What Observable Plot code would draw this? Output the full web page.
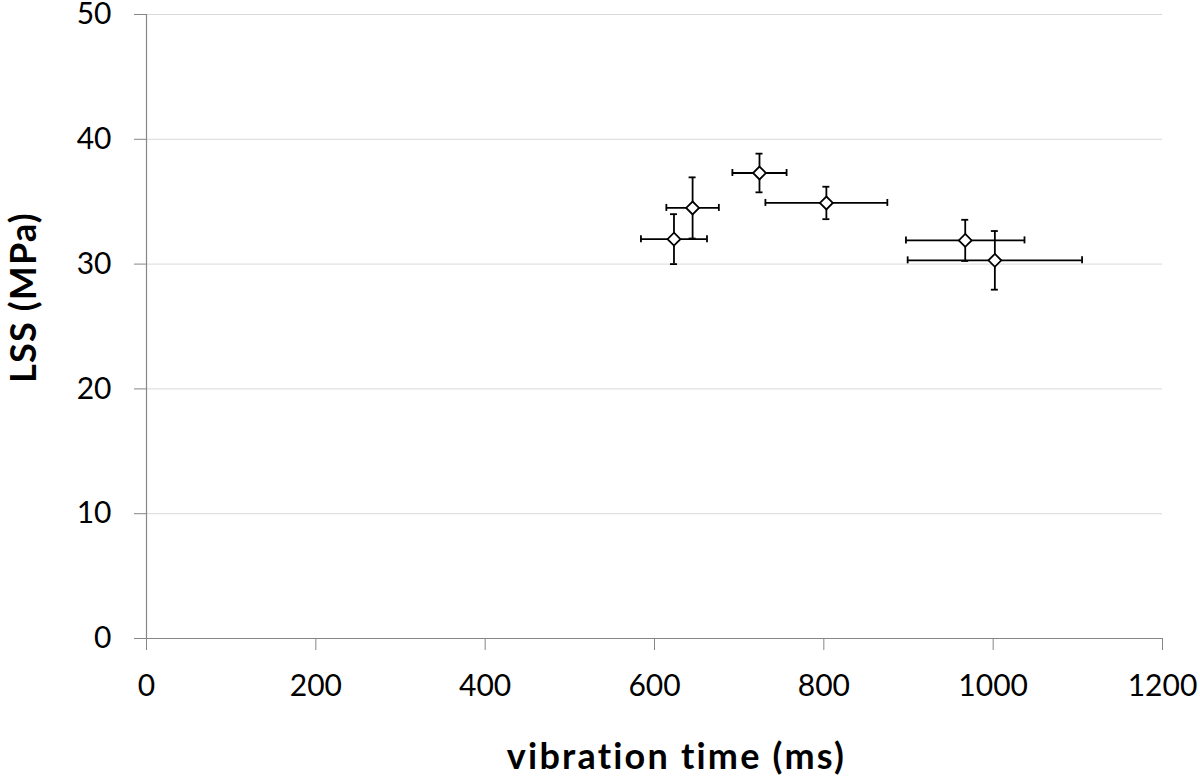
<!DOCTYPE html>
<html>
<head>
<meta charset="utf-8">
<script src="https://cdn.jsdelivr.net/npm/d3@7"></script>
<script src="https://cdn.jsdelivr.net/npm/@observablehq/plot@0.6"></script>
<style>
  html, body { margin: 0; padding: 0; background: #fff; }
  #chart { width: 1200px; height: 780px; }
</style>
</head>
<body>
<div id="chart"></div>
<script>
const time    = [623, 645, 724, 803, 967, 1002];
const timeErr = [39, 31, 32, 72, 70, 103];
const lss     = [32.0, 34.5, 37.3, 34.9, 31.9, 30.3];
const lssErr  = [2.0, 2.45, 1.55, 1.3, 1.65, 2.35];
const xTicks  = [0, 200, 400, 600, 800, 1000, 1200];
const yTicks  = [0, 10, 20, 30, 40, 50];
const xTitle  = "vibration time (ms)";
const yTitle  = "LSS (MPa)";

const data = time.map((t, i) => ({
  x: t, xlo: t - timeErr[i], xhi: t + timeErr[i],
  y: lss[i], ylo: lss[i] - lssErr[i], yhi: lss[i] + lssErr[i]
}));

const font = "Lato, 'Open Sans', sans-serif";
const cap = 3.5;
const sw = 1.8;

const chart = Plot.plot({
  width: 1200,
  height: 780,
  marginLeft: 146,
  marginRight: 38,
  marginTop: 14,
  marginBottom: 142,
  style: { fontFamily: font, background: "#fff" },
  x: { domain: [0, 1200], ticks: xTicks },
  y: { domain: [0, 50], ticks: yTicks },
  marks: [
    Plot.gridY(yTicks.filter(d => d > 0), { stroke: "#d9d9d9", strokeOpacity: 1, strokeWidth: 1 }),
    Plot.ruleX([0], { stroke: "#868686", strokeWidth: 1.2 }),
    Plot.axisY({ ticks: yTicks, tickSize: 12, tickPadding: 23, stroke: "#868686", fill: "#000",
      fontSize: 30, label: null, tickFormat: d => String(d) }),
    Plot.axisX({ ticks: xTicks, tickSize: 12, tickPadding: 24, stroke: "#868686", fill: "#000",
      fontSize: 30, label: null, tickFormat: d => String(d) }),
    Plot.ruleY([0], { stroke: "#868686", strokeWidth: 1.2 }),
    // horizontal error bars
    Plot.ruleY(data, { y: "y", x1: "xlo", x2: "xhi", stroke: "#000", strokeWidth: sw }),
    Plot.ruleX(data, { x: "xlo", y1: "y", y2: "y", insetTop: -cap, insetBottom: -cap, stroke: "#000", strokeWidth: sw }),
    Plot.ruleX(data, { x: "xhi", y1: "y", y2: "y", insetTop: -cap, insetBottom: -cap, stroke: "#000", strokeWidth: sw }),
    // vertical error bars
    Plot.ruleX(data, { x: "x", y1: "ylo", y2: "yhi", stroke: "#000", strokeWidth: sw }),
    Plot.ruleY(data, { y: "ylo", x1: "x", x2: "x", insetLeft: -cap, insetRight: -cap, stroke: "#000", strokeWidth: sw }),
    Plot.ruleY(data, { y: "yhi", x1: "x", x2: "x", insetLeft: -cap, insetRight: -cap, stroke: "#000", strokeWidth: sw }),
    // markers
    Plot.dot(data, { x: "x", y: "y", symbol: "diamond2", r: 5.8, fill: "#fff", stroke: "#000", strokeWidth: sw }),
    // axis titles
    Plot.text([xTitle], { frameAnchor: "bottom", textAnchor: "middle", dx: 22, dy: 130, fontSize: 36, fontWeight: "bold", fill: "#000", lineAnchor: "bottom" }),
    Plot.text([yTitle], { frameAnchor: "left", textAnchor: "middle", dx: -122, dy: -29, rotate: -90, fontSize: 36, fontWeight: "bold", fill: "#000" })
  ]
});

d3.select(chart).selectAll("text").each(function () {
  const t = this.textContent;
  if (t === xTitle) this.style.letterSpacing = "2.2px";
  if (t === yTitle) this.style.letterSpacing = "1.2px";
});

document.getElementById("chart").appendChild(chart);
</script>
</body>
</html>
